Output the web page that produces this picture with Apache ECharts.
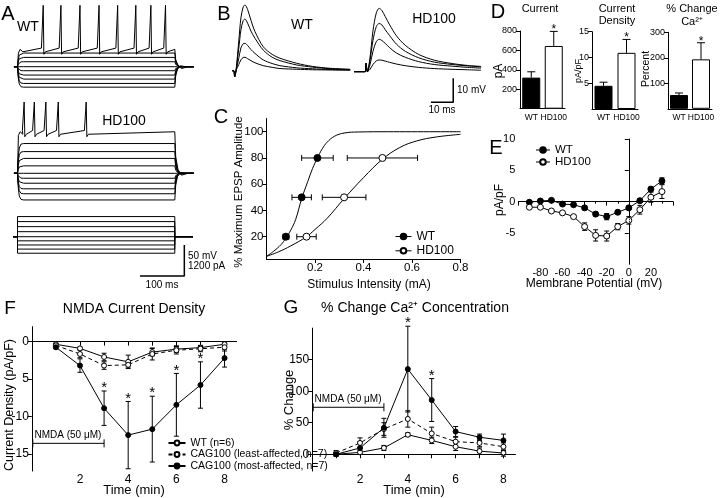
<!DOCTYPE html>
<html><head><meta charset="utf-8">
<script src="https://cdn.jsdelivr.net/npm/echarts@6/dist/echarts.min.js"></script>
<style>html,body{margin:0;padding:0;background:#fff}#c{width:720px;height:498px}</style>
</head><body><div id="c"></div>
<script>
// ================= DATA =================
// Panel A (membrane potential traces, mV; current steps, pA; time ms)
const aBaseline = -65;
const aWTLevels = [-43, -50, -57, -65, -71.5, -78.5, -85, -92, -98];
const aWTSpikeBase = -37, aWTSpikePeak = 34;
const aWTSpikeTimes = [58, 98, 141, 184, 226, 267, 301, 334];
const aHDLevels = [-17, -30, -41, -53, -65, -73, -81, -90, -98, -108];
const aHDSpikeBase = 2, aHDSpikePeak = 50;
const aHDSpikeTimes = [15, 38, 64, 92, 155];
const aCurrentSteps = [780, 585, 390, 195, 0, -160, -320, -480, -640];
const aScaleBar = [[276.5, -1520], [376.5, -1520], [376.5, -320]]; // 100 ms, 1200 pA (=50 mV)

// Panel B (EPSP traces, mV vs ms)
const bWTTime = [0, 0.8, 1.2, 1.8, 3, 4, 5, 5.8, 7, 8.5, 10.3, 14, 18, 21.5, 29, 36, 44, 53];
const bWT1 = [0, 0, -2.5, 0, 12, 22, 26.5, 27.4, 25.5, 21, 16.3, 10, 6.8, 5.2, 3.1, 1.8, 1.0, 0.6];
const bWT2 = [0, 0, -2.5, 0, 9, 17, 20.8, 21.5, 19.8, 16.5, 13.5, 8.6, 5.6, 4.2, 2.4, 1.5, 0.8, 0.5];
const bWT3 = [0, 0, -2.5, 0, 5, 9.5, 11.2, 11.4, 10.5, 8.8, 7.2, 4.5, 3, 2.1, 1.2, 0.8, 0.5, 0.3];
const bWT4 = [0, 0, -2.5, 0, 2.5, 4.5, 5.5, 5.6, 5, 4.2, 3.3, 2.1, 1.4, 0.9, 0.6, 0.4, 0.3, 0.2];
const bHDTime = [0, 5, 5.4, 6, 7.2, 8.5, 10, 11.3, 12.5, 14, 16, 19, 23, 29, 36, 44, 51, 57];
const bHD1 = [0, 0, 3.5, 0, 6, 17, 24.5, 26.4, 25.5, 23, 19.5, 15, 11, 7.2, 4.8, 3.4, 2.6, 2.2];
const bHD2 = [0, 0, 3.5, 0, 5, 13, 18.8, 20.1, 19.5, 17.5, 15, 11.5, 8.5, 5.8, 4, 3, 2.4, 2];
const bHD3 = [0, 0, 3.5, 0, 3, 8.5, 12.5, 13.5, 13, 11.8, 10, 7.8, 6, 4.2, 3, 2.3, 1.8, 1.5];
const bHD4 = [0, 0, 3.5, 0, 1, 3, 4.5, 4.9, 4.8, 4.4, 3.9, 3.2, 2.5, 1.8, 1.3, 1, 0.8, 0.6];
const bScaleBar = [[34.5, -12.75], [44.5, -12.75], [44.5, -2.75]]; // 10 ms, 10 mV

// Panel C (stimulus intensity mA vs % max EPSP)
const cLevels = [20, 50, 80];
const cWTX = [0.08, 0.145, 0.21];
const cWTXErr = [0.012, 0.04, 0.065];
const cHDX = [0.165, 0.32, 0.478];
const cHDXErr = [0.04, 0.09, 0.145];
const cWTFitX = [0, 0.03, 0.06, 0.08, 0.1, 0.12, 0.145, 0.17, 0.19, 0.21, 0.23, 0.25, 0.28, 0.32, 0.38, 0.5, 0.8];
const cWTFitY = [5, 9, 14, 19, 25, 33, 49, 62, 72, 80, 87, 92, 96.5, 99, 99.8, 100, 100];
const cHDFitX = [0, 0.05, 0.1, 0.165, 0.2, 0.25, 0.32, 0.4, 0.478, 0.55, 0.62, 0.7, 0.8];
const cHDFitY = [5, 8.5, 13, 20, 25.5, 34, 49, 65, 79, 88, 93, 96, 98];

// Panel D (bars)
const dGroups = ['WT', 'HD100'];
const dCurrent = [320, 646], dCurrentErr = [60, 150];
const dDensity = [4.5, 10.9], dDensityErr = [0.7, 2.6];
const dCa = [54, 194], dCaErr = [8, 65];

// Panel E (I-V)
const eV = [-90, -80, -70, -60, -50, -40, -30, -20, -10, 0, 10, 20, 30];
const eWT = [-0.1, 0.1, 0.2, -0.4, -0.5, -1.0, -2.0, -2.4, -1.7, -1.0, 0.15, 2.0, 3.3];
const eWTErr = [0.2, 0.2, 0.2, 0.2, 0.2, 0.3, 0.3, 0.5, 0.3, 0.3, 0.3, 0.3, 0.5];
const eHD = [-0.9, -0.9, -1.5, -1.8, -2.4, -4.0, -5.4, -5.5, -4.0, -3.0, -1.3, 0.7, 1.6];
const eHDErr = [0.2, 0.2, 0.2, 0.2, 0.3, 0.6, 0.9, 0.8, 0.5, 0.6, 0.7, 0.8, 1.1];

// Panel F (NMDA current density)
const fTime = [1, 2, 3, 4, 5, 6, 7, 8];
const fWT = [-0.35, -0.9, -2.05, -2.7, -1.4, -1.0, -0.8, -0.35];
const fWTErr = [0.1, 0.15, 0.5, 0.9, 0.5, 0.45, 0.3, 0.2];
const fLeast = [-0.5, -1.65, -3.2, -3.1, -1.65, -1.15, -0.95, -0.75];
const fLeastErr = [0.15, 0.5, 0.5, 0.3, 0.8, 0.5, 0.4, 0.5];
const fMost = [-0.75, -3.2, -8.9, -12.5, -11.7, -8.45, -5.8, -2.2];
const fMostErr = [0.2, 0.9, 2.3, 4.5, 4.4, 4.2, 3.1, 1.2];
const fStarTimes = [3, 4, 5, 6, 7];
const fNMDA = [0, 3, -13.6];

// Panel G (% change Ca2+)
const gTime = [1, 2, 3, 4, 5, 6, 7, 8];
const gWT = [0, 3, 10, 31, 22, 12, 5, 2];
const gWTErr = [3, 3, 4, 3, 5, 6, 5, 5];
const gLeast = [2, 18, 40, 56, 33, 20, 18, 12];
const gLeastErr = [4, 8, 10, 13, 10, 7, 6, 6];
const gMost = [0, 10, 42, 135, 86, 36, 27, 22];
const gMostErr = [3, 10, 15, 68, 34, 8, 5, 10];
const gStarTimes = [4, 5];
const gNMDA = [0, 3, 74.5];

const legF = ['WT (n=6)', 'CAG100 (least-affected, n=7)', 'CAG100 (most-affected, n=7)'];

// ================= HELPERS =================
const FONT = "'Liberation Sans', Arial, Helvetica, sans-serif";
const K = '#000';
function stepTrace(L, B) {
  const d = L - B;
  return [[-8, B], [0, B], [1.5, B + d * 0.5], [4, B + d * 0.85], [8, B + d * 0.98], [14, L], [355, L],
          [357, B + d * 0.45], [361, B + d * 0.12], [368, B - d * 0.03], [380, B], [398, B]];
}
function spikeTrace(B, base, peak, times) {
  const p = [[-8, B], [0, B], [2, base - 6], [6, base], [12, base - 4]];
  times.forEach(t => { p.push([t - 4, base + 2], [t - 1, base + 5], [t, peak], [t + 1.5, base - 8], [t + 5, base - 4]); });
  p.push([355, base], [357, B + (base - B) * 0.4], [362, B + (base - B) * 0.1], [370, B - 3], [385, B], [398, B]);
  return p;
}
const zip = (xs, ys) => xs.map((x, i) => [x, ys[i]]);
function trace(gi, data, extra) {
  return Object.assign({ type: 'line', xAxisIndex: gi, yAxisIndex: gi, data, symbol: 'none', silent: true,
    lineStyle: { color: K, width: 1 }, animation: false, z: 2 }, extra || {});
}
function vErr(gi, data, cap, top) {
  return { type: 'custom', xAxisIndex: gi, yAxisIndex: gi, data, silent: true, z: 1, clip: false,
    renderItem: (p, api) => {
      const x = api.value(0), a = api.coord([x, api.value(1)]), b = api.coord([x, api.value(2)]);
      const st = { stroke: K, lineWidth: 1 };
      const ch = [{ type: 'line', shape: { x1: a[0], y1: a[1], x2: b[0], y2: b[1] }, style: st },
                  { type: 'line', shape: { x1: b[0] - cap, y1: b[1], x2: b[0] + cap, y2: b[1] }, style: st }];
      if (!top) ch.push({ type: 'line', shape: { x1: a[0] - cap, y1: a[1], x2: a[0] + cap, y2: a[1] }, style: st });
      return { type: 'group', children: ch };
    } };
}
function hErr(gi, data, cap) {
  return { type: 'custom', xAxisIndex: gi, yAxisIndex: gi, data, silent: true, z: 1, clip: false,
    renderItem: (p, api) => {
      const y = api.value(1), a = api.coord([api.value(0), y]), b = api.coord([api.value(2), y]);
      const st = { stroke: K, lineWidth: 1 };
      return { type: 'group', children: [
        { type: 'line', shape: { x1: a[0], y1: a[1], x2: b[0], y2: b[1] }, style: st },
        { type: 'line', shape: { x1: a[0], y1: a[1] - cap, x2: a[0], y2: a[1] + cap }, style: st },
        { type: 'line', shape: { x1: b[0], y1: b[1] - cap, x2: b[0], y2: b[1] + cap }, style: st }] };
    } };
}
function stars(gi, data, off, size) {
  return { type: 'custom', xAxisIndex: gi, yAxisIndex: gi, data, silent: true, z: 3, clip: false,
    renderItem: (p, api) => {
      const c = api.coord([api.value(0), api.value(1)]);
      return { type: 'text', style: { text: '*', x: c[0], y: c[1] - off, textAlign: 'center', textVerticalAlign: 'middle',
        font: size + 'px ' + FONT, fill: K } };
    } };
}
function nmda(gi, d) {
  return { type: 'custom', xAxisIndex: gi, yAxisIndex: gi, data: [d], silent: true, z: 3, clip: false,
    renderItem: (p, api) => {
      const y = api.value(2), a = api.coord([api.value(0), y]), b = api.coord([api.value(1), y]);
      const st = { stroke: K, lineWidth: 1 };
      return { type: 'group', children: [
        { type: 'line', shape: { x1: a[0] + 1, y1: a[1], x2: b[0], y2: b[1] }, style: st },
        { type: 'line', shape: { x1: a[0] + 1, y1: a[1] - 4, x2: a[0] + 1, y2: a[1] + 4 }, style: st },
        { type: 'line', shape: { x1: b[0], y1: b[1] - 4, x2: b[0], y2: b[1] + 4 }, style: st },
        { type: 'text', style: { text: 'NMDA (50 μM)', x: (a[0] + b[0]) / 2, y: a[1] - 3, textAlign: 'center',
          textVerticalAlign: 'bottom', font: '10px ' + FONT, fill: K } }] };
    } };
}
const zeroLine = (axis) => ({ silent: true, symbol: 'none', label: { show: false }, animation: false,
  lineStyle: { type: 'dotted', color: K, width: 1 }, data: axis });
function marked(name, gi, data, filled, size, dashed, extra) {
  return Object.assign({ type: 'line', name, xAxisIndex: gi, yAxisIndex: gi, data, silent: true, animation: false,
    symbol: 'circle', symbolSize: size, showSymbol: true, z: 2,
    lineStyle: { color: K, width: 1, type: dashed ? [4, 3] : 'solid' },
    itemStyle: { color: filled ? K : '#fff', borderColor: K, borderWidth: 1 } }, extra || {});
}

const axLine = { lineStyle: { color: K, width: 1 } };
const axTick = { lineStyle: { color: K, width: 1 }, length: 4 };
const axLab = (fs) => ({ color: K, fontSize: fs || 11, fontFamily: FONT, margin: 3 });
const hidden = (gi, min, max) => ({ type: 'value', gridIndex: gi, min, max, show: false });
function valAxis(gi, min, max, o) {
  return Object.assign({ type: 'value', gridIndex: gi, min, max, axisLine: Object.assign({ show: true }, axLine),
    axisTick: Object.assign({ show: true }, axTick), splitLine: { show: false }, axisLabel: axLab() }, o || {});
}

// ================= SERIES =================
const series = [];
// A
aWTLevels.forEach(L => series.push(trace(0, stepTrace(L, aBaseline))));
series.push(trace(0, spikeTrace(aBaseline, aWTSpikeBase, aWTSpikePeak, aWTSpikeTimes)));
aHDLevels.forEach(L => series.push(trace(1, stepTrace(L, aBaseline))));
series.push(trace(1, spikeTrace(aBaseline, aHDSpikeBase, aHDSpikePeak, aHDSpikeTimes)));
aCurrentSteps.forEach(I => series.push(trace(2, [[-10, 0], [0, 0], [0, I], [355, I], [355, 0], [396, 0]])));
series.push(trace(2, aScaleBar, { lineStyle: { color: K, width: 1.5 } }));
// B
[bWT1, bWT2, bWT3, bWT4].forEach(v => series.push(trace(3, zip(bWTTime, v), { smooth: 0.3 })));
[bHD1, bHD2, bHD3, bHD4].forEach(v => series.push(trace(4, zip(bHDTime, v), { smooth: 0.3 })));
series.push(trace(4, bScaleBar, { lineStyle: { color: K, width: 1.5 } }));
// C
series.push(trace(5, zip(cWTFitX, cWTFitY), { smooth: 0.4 }));
series.push(trace(5, zip(cHDFitX, cHDFitY), { smooth: 0.4 }));
series.push(hErr(5, cWTX.map((x, i) => [x - cWTXErr[i], cLevels[i], x + cWTXErr[i]]), 3));
series.push(hErr(5, cHDX.map((x, i) => [x - cHDXErr[i], cLevels[i], x + cHDXErr[i]]), 3));
series.push(marked('WT', 5, zip(cWTX, cLevels), true, 7, false, { lineStyle: { width: 1, color: K, opacity: 0 }, z: 3 }));
series.push(marked('HD100', 5, zip(cHDX, cLevels), false, 7, false, { lineStyle: { width: 1, color: K, opacity: 0 }, z: 3 }));
// D
[[6, dCurrent, dCurrentErr], [7, dDensity, dDensityErr], [8, dCa, dCaErr]].forEach(([gi, v, e]) => {
  series.push({ type: 'bar', xAxisIndex: gi, yAxisIndex: gi, barWidth: 18, silent: true, animation: false, z: 2,
    data: v.map((val, i) => ({ value: val, itemStyle: { color: i ? '#fff' : K, borderColor: K, borderWidth: 1 } })) });
  series.push(Object.assign(vErr(gi, v.map((val, i) => [i, val, val + e[i]]), 4, true), { z: 3 }));
  series.push(stars(gi, [[1, v[1] + e[1]]], 1.5, 12));
});
// E
series.push(vErr(9, eV.map((x, i) => [x, eWT[i] - eWTErr[i], eWT[i] + eWTErr[i]]), 2.5));
series.push(vErr(9, eV.map((x, i) => [x, eHD[i] - eHDErr[i], eHD[i] + eHDErr[i]]), 2.5));
series.push(marked('WT', 9, zip(eV, eWT), true, 6, false, {
  markLine: zeroLine([{ yAxis: 0 }, { xAxis: 0 }]) }));
series.push(marked('HD100', 9, zip(eV, eHD), false, 6, false));
// F
series.push(vErr(10, fTime.map((x, i) => [x, fWT[i] - fWTErr[i], fWT[i] + fWTErr[i]]), 2.5));
series.push(vErr(10, fTime.map((x, i) => [x, fLeast[i] - fLeastErr[i], fLeast[i] + fLeastErr[i]]), 2.5));
series.push(vErr(10, fTime.map((x, i) => [x, fMost[i] - fMostErr[i], fMost[i] + fMostErr[i]]), 2.5));
series.push(marked(legF[0], 10, zip(fTime, fWT), false, 5, false, { markLine: zeroLine([{ yAxis: 0 }]) }));
series.push(marked(legF[1], 10, zip(fTime, fLeast), false, 5, true));
series.push(marked(legF[2], 10, zip(fTime, fMost), true, 5, false));
series.push(stars(10, fStarTimes.map(t => { const i = fTime.indexOf(t); return [t, fMost[i] + fMostErr[i]]; }), 3, 15));
series.push(nmda(10, fNMDA));
// G
series.push(vErr(11, gTime.map((x, i) => [x, gWT[i] - gWTErr[i], gWT[i] + gWTErr[i]]), 2.5));
series.push(vErr(11, gTime.map((x, i) => [x, gLeast[i] - gLeastErr[i], gLeast[i] + gLeastErr[i]]), 2.5));
series.push(vErr(11, gTime.map((x, i) => [x, gMost[i] - gMostErr[i], gMost[i] + gMostErr[i]]), 2.5));
series.push(marked(legF[0], 11, zip(gTime, gWT), false, 5, false, { markLine: zeroLine([{ yAxis: 0 }]) }));
series.push(marked(legF[1], 11, zip(gTime, gLeast), false, 5, true));
series.push(marked(legF[2], 11, zip(gTime, gMost), true, 5, false));
series.push(stars(11, gStarTimes.map(t => { const i = gTime.indexOf(t); return [t, gMost[i] + gMostErr[i]]; }), 3, 15));
series.push(nmda(11, gNMDA));

// ================= TEXT =================
const T = (text, x, y, size, o) => Object.assign({ type: 'text', x, y, silent: true,
  style: Object.assign({ text, font: size + 'px ' + FONT, fill: K, textAlign: 'center', textVerticalAlign: 'middle' }, (o && o.style) || {}) },
  o ? { rotation: o.rotation || 0 } : {});
const R = (text, x, y, size) => T(text, x, y, size, { rotation: Math.PI / 2 });
const graphic = [
  T('A', 8, 14, 20), T('WT', 28, 27, 14), T('HD100', 124, 121, 14),
  T('50 mV', 188, 256.5, 10, { style: { textAlign: 'left' } }), T('1200 pA', 188, 266.5, 10, { style: { textAlign: 'left' } }),
  T('100 ms', 162, 285, 10),
  T('B', 224, 14, 20), T('WT', 302, 25, 14), T('HD100', 434, 19, 14),
  T('10 mV', 457, 90, 10, { style: { textAlign: 'left' } }), T('10 ms', 442, 110, 10),
  T('C', 221, 117, 20), R('% Maximum EPSP Amplitude', 239, 192, 11.5), T('Stimulus Intensity (mA)', 369, 285, 12),
  T('D', 498, 12, 20),
  T('Current', 540, 9, 11), R('pA', 499, 71, 12),
  T('Current', 617, 9, 11), T('Density', 617, 21, 11), R('pA/pF', 578.5, 71, 9),
  T('% Change', 692, 9, 11), T('Ca²⁺', 692, 22, 11), R('Percent', 646.5, 69, 10.5),
  T('E', 496, 148, 20), R('pA/pF', 500, 200, 12), T('Membrane Potential (mV)', 594, 284, 12),
  T('F', 10, 309, 19), T('NMDA Current Density', 134, 309, 14),
  R('Current Density (pA/pF)', 9.5, 405, 12.5), T('Time (min)', 134, 490, 13),
  T('G', 291, 308, 19), T('% Change Ca²⁺ Concentration', 415, 308, 14),
  R('% Change', 289, 400, 13), T('Time (min)', 414, 490, 13)
];

// ================= OPTION =================
const catAxis = (gi) => ({ type: 'category', gridIndex: gi, data: dGroups, axisLine: axLine, axisTick: { show: false },
  axisLabel: Object.assign(axLab(8.5), { interval: 0, margin: 4 }) });
const legLine = { opacity: 1, width: 1, color: K };
const option = {
  animation: false,
  textStyle: { fontFamily: FONT },
  grid: [
    { left: 13.96, top: 1.6, width: 179.9, height: 93 },
    { left: 13.96, top: 95.8, width: 179.9, height: 105.4 },
    { left: 13.96, top: 209.6, width: 179.9, height: 71 },
    { left: 232, top: 3.5, width: 118.2, height: 103.2 },
    { left: 354, top: 4.5, width: 127.1, height: 103.2 },
    { left: 266.5, top: 118.6, width: 194, height: 140.4 },
    { left: 520, top: 31, width: 45, height: 77.7 },
    { left: 592, top: 31.7, width: 46, height: 77.3 },
    { left: 668, top: 32.3, width: 44, height: 76.5 },
    { left: 518.3, top: 139, width: 154.7, height: 125.2 },
    { left: 31.8, top: 326.7, width: 204.8, height: 144.3 },
    { left: 312.2, top: 328.1, width: 203.2, height: 142.9 }
  ],
  xAxis: [
    hidden(0, -8, 398), hidden(1, -8, 398), hidden(2, -8, 398), hidden(3, 0, 53), hidden(4, 0, 57),
    valAxis(5, 0, 0.8, { axisLabel: Object.assign(axLab(11.5), { customValues: [0.2, 0.4, 0.6, 0.8] }),
      axisTick: Object.assign({ customValues: [0.2, 0.4, 0.6, 0.8] }, axTick) }),
    catAxis(6), catAxis(7), catAxis(8),
    valAxis(9, -100, 40, { interval: 20, axisLabel: Object.assign(axLab(11), { showMinLabel: false, showMaxLabel: false }),
      minorTick: { show: true, splitNumber: 2, length: 2, lineStyle: { color: K } } }),
    valAxis(10, 0, 8.5, { axisLabel: Object.assign(axLab(12), { customValues: [2, 4, 6, 8] }),
      axisTick: Object.assign({ customValues: [0, 1, 2, 3, 4, 5, 6, 7, 8] }, axTick) }),
    valAxis(11, 0, 8.5, { axisLabel: Object.assign(axLab(12), { customValues: [2, 4, 6, 8] }),
      axisTick: Object.assign({ customValues: [0, 1, 2, 3, 4, 5, 6, 7, 8] }, axTick) })
  ],
  yAxis: [
    hidden(0, -110, 40), hidden(1, -110, 60), hidden(2, -1700, 1050), hidden(3, -15, 28), hidden(4, -15, 28),
    valAxis(5, 3, 110, { axisLabel: Object.assign(axLab(11.5), { customValues: [20, 40, 60, 80, 100] }),
      axisTick: Object.assign({ customValues: [20, 40, 60, 80, 100] }, axTick) }),
    valAxis(6, 0, 800, { interval: 200, axisLabel: Object.assign(axLab(9), { showMinLabel: false }) }),
    valAxis(7, 0, 15, { interval: 5, axisLabel: Object.assign(axLab(9), { showMinLabel: false }) }),
    valAxis(8, 0, 300, { interval: 100, axisLabel: Object.assign(axLab(9), { showMinLabel: false }) }),
    valAxis(9, -10, 10, { interval: 5, axisLabel: Object.assign(axLab(11), { showMinLabel: false }) }),
    valAxis(10, -17.3, 2, { axisLabel: Object.assign(axLab(12), { customValues: [0, -5, -10, -15],
      formatter: v => (v === -5 ? '5' : String(v)) }),
      axisTick: Object.assign({ customValues: [0, -5, -10, -15] }, axTick) }),
    valAxis(11, -26.5, 200, { axisLabel: Object.assign(axLab(12), { customValues: [0, 50, 100, 150] }),
      axisTick: Object.assign({ customValues: [0, 50, 100, 150] }, axTick) })
  ],
  legend: [
    { data: ['WT', 'HD100'], orient: 'vertical', left: 390, top: 225.5, itemWidth: 16, itemHeight: 7, itemGap: 2.3,
      lineStyle: legLine, textStyle: { fontSize: 12, lineHeight: 12, color: K, fontFamily: FONT }, selectedMode: false },
    { data: ['WT', 'HD100'], orient: 'vertical', left: 530.5, top: 139, itemWidth: 14, itemHeight: 7, itemGap: 0,
      lineStyle: legLine, textStyle: { fontSize: 11.5, lineHeight: 10, color: K, fontFamily: FONT }, selectedMode: false },
    { data: legF, orient: 'vertical', left: 162.5, top: 432.5, itemWidth: 17, itemHeight: 6, itemGap: 0.5,
      textStyle: { fontSize: 10.5, lineHeight: 11, color: K, fontFamily: FONT }, selectedMode: false }
  ],
  series,
  graphic
};
const chart = echarts.init(document.getElementById('c'), null, { renderer: 'canvas' });
chart.setOption(option);
</script></body></html>
